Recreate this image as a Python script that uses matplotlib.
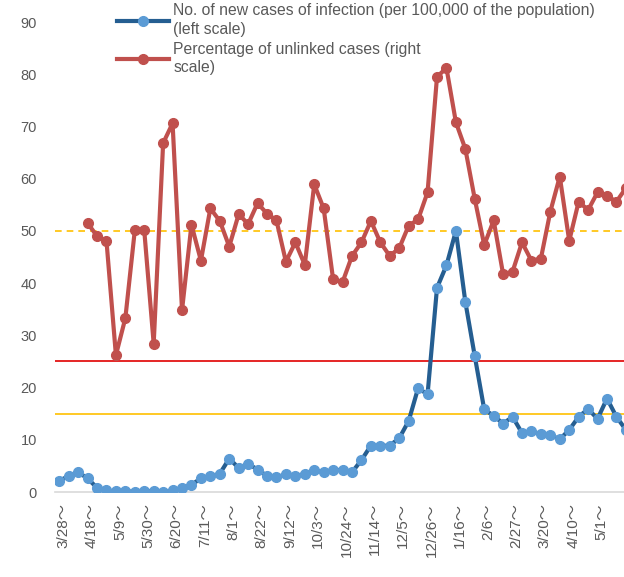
import matplotlib
matplotlib.use('Agg')
import matplotlib.pyplot as plt
import matplotlib.transforms as mtransforms
from matplotlib.lines import Line2D

plt.rcParams['font.family'] = ['Liberation Sans', 'Noto Sans CJK JP', 'DejaVu Sans']

# weekly values, first week starting 3/28
new_cases = [2.1, 3.1, 3.8, 2.6, 0.8, 0.3, 0.1, 0.2, 0.0, 0.1,
             0.2, 0.05, 0.3, 0.7, 1.4, 2.6, 3.0, 3.5, 6.4, 4.6,
             5.4, 4.3, 3.1, 2.8, 3.4, 3.0, 3.5, 4.2, 3.8, 4.2,
             4.2, 3.8, 6.1, 8.9, 8.8, 8.9, 10.3, 13.6, 19.9, 18.7,
             39.1, 43.4, 50.0, 36.4, 26.0, 15.8, 14.6, 13.1, 14.4, 11.3,
             11.6, 11.1, 10.9, 10.1, 11.9, 14.4, 15.9, 14.0, 17.9, 14.4,
             11.9]
# unlinked cases start at week 4 (4/18)
unlinked = [None, None, None, 51.5, 49.0, 48.1, 26.2, 33.3, 50.1, 50.1,
            28.4, 66.8, 70.6, 34.8, 51.2, 44.3, 54.3, 51.9, 47.0, 53.2,
            51.3, 55.3, 53.3, 52.0, 44.1, 47.8, 43.5, 58.9, 54.3, 40.7,
            40.2, 45.2, 47.8, 51.9, 47.8, 45.2, 46.7, 51.0, 52.2, 57.4,
            79.5, 81.2, 70.8, 65.7, 56.1, 47.3, 52.0, 41.7, 42.2, 47.8,
            44.3, 44.7, 53.7, 60.4, 48.1, 55.6, 54.0, 57.4, 56.7, 55.6,
            58.2]
tick_labels = ['3/28～', '4/18～', '5/9～', '5/30～', '6/20～', '7/11～', '8/1～',
               '8/22～', '9/12～', '10/3～', '10/24～', '11/14～', '12/5～',
               '12/26～', '1/16～', '2/6～', '2/27～', '3/20～', '4/10～', '5/1～']

weeks = list(range(len(new_cases)))
red_x = [i for i, v in enumerate(unlinked) if v is not None]
red_y = [v for v in unlinked if v is not None]

fig = plt.figure(figsize=(6.24, 5.77), dpi=100)
ax = fig.add_axes([55 / 624, 85 / 577, 1 - 55 / 624, (492 - 22) / 577])

ax.axhline(25, color='#E00000', lw=1.2, zorder=1)
ax.axhline(15, color='#FFC000', lw=1.2, zorder=1)
ax.axhline(50, color='#FFC000', lw=1.2, ls=(0, (4, 3)), zorder=1)

ax.plot(red_x, red_y, color='#C0504D', lw=3, marker='o', ms=7,
        mfc='#C0504D', mec='#C0504D', zorder=3)
ax.plot(weeks, new_cases, color='#255E91', lw=3, marker='o', ms=7,
        mfc='#5B9BD5', mec='#5B9BD5', zorder=4)

ax.set_xlim(-0.45, 59.8)
ax.set_ylim(0, 90)
ax.set_yticks(range(0, 91, 10))
for s in ['top', 'right', 'left']:
    ax.spines[s].set_visible(False)
ax.spines['bottom'].set_color('#D9D9D9')
ax.spines['bottom'].set_linewidth(1.2)

ax.set_xticks(range(0, 60, 3))
ax.set_xticklabels(tick_labels, rotation=90, va='top', ha='center')
ax.tick_params(axis='both', length=0, colors='#595959')
ax.tick_params(axis='x', pad=8, labelsize=11)
ax.tick_params(axis='y', pad=13, labelsize=10.5)
offset = mtransforms.ScaledTranslation(4 / 100, 0, fig.dpi_scale_trans)
for lbl in ax.get_xticklabels():
    lbl.set_transform(lbl.get_transform() + offset)

handles = [
    Line2D([], [], color='#255E91', lw=3, marker='o', ms=7, mfc='#5B9BD5', mec='#5B9BD5'),
    Line2D([], [], color='#C0504D', lw=3, marker='o', ms=7, mfc='#C0504D', mec='#C0504D'),
]
labels = ['No. of new cases of infection (per 100,000 of the population)\n(left scale)',
          'Percentage of unlinked cases (right\nscale)']
leg = fig.legend(handles, labels, loc='upper left', bbox_to_anchor=(108 / 624, 1 + 6 / 577),
                 frameon=False, fontsize=11.3, handlelength=3.3, handletextpad=0.25,
                 labelspacing=0.3, borderpad=0.1)
for t in leg.get_texts():
    t.set_color('#595959')
    t.set_linespacing(1.3)

fig.savefig('out.png', dpi=100)
